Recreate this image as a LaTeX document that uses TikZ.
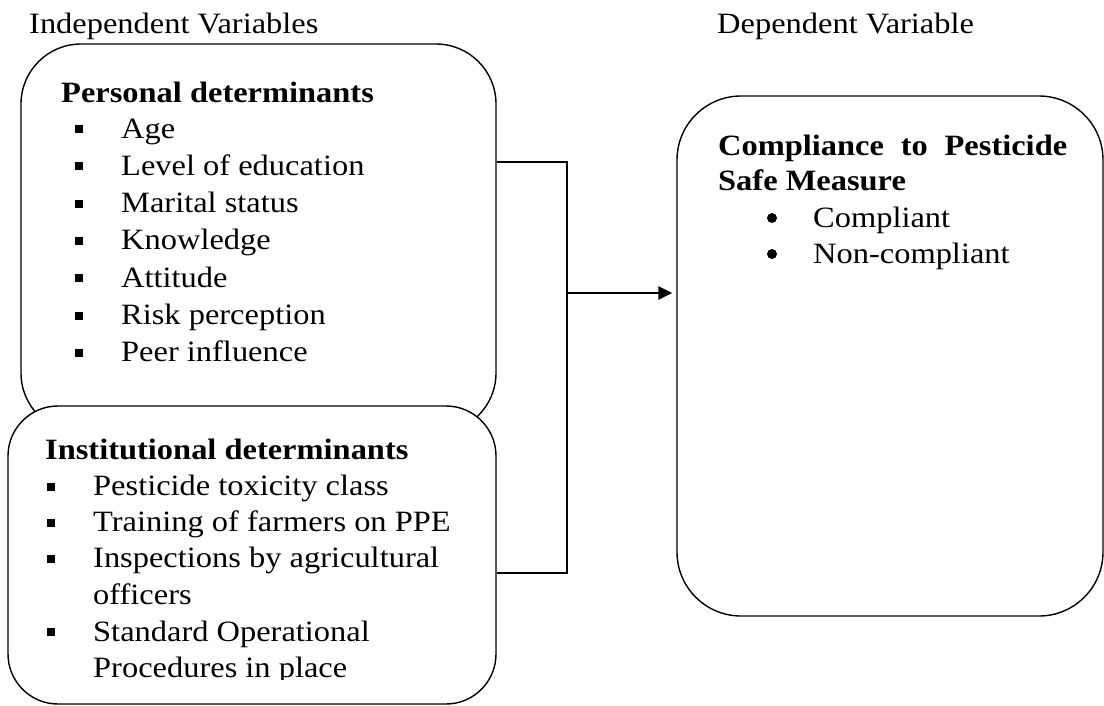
\documentclass[tikz,border=0pt]{standalone}
\usepackage{fontspec}
\setmainfont{Liberation Serif}[FakeStretch=1.1]
\usetikzlibrary{arrows.meta}
\newcommand{\sqb}{\makebox[46pt][l]{\rule[5pt]{8pt}{8pt}}}

\begin{document}
\begin{tikzpicture}[x=1pt,y=-1pt,
    font=\fontsize{29.5}{37}\selectfont,
    box/.style={draw, line width=1.4pt, rounded corners=#1, inner sep=0pt},
    txt/.style={anchor=base west, inner sep=0pt},
    conn/.style={line width=2.6pt}]
    \useasboundingbox (0,0) rectangle (1104,705);
    \node[txt] (indep) at (29,33) {Independent Variables};
    \node[txt] (depen) at (717,33) {Dependent Variable};
    % boxes
    \node[box=60pt, minimum width=475pt, minimum height=389pt] (pers) at (258.5,238.5) {};
    \node[box=50pt, fill=white, minimum width=488pt, minimum height=298pt] (inst) at (252,555) {};
    \node[box=64pt, minimum width=426pt, minimum height=520pt] (dep) at (890,356) {};
    % personal determinants
    \node[txt] (ptitle) at (61,102) {\bfseries Personal determinants};
    \foreach \t [count=\i from 0] in {Age, Level of education, Marital status,
        Knowledge, Attitude, Risk perception, Peer influence}
        \node[txt] (p\i) at (75,{138+37.3*\i}) {\sqb\t};
    % institutional determinants
    \node[txt] (ititle) at (45,459) {\bfseries Institutional determinants};
    \foreach \t [count=\i from 0] in {Pesticide toxicity class,
        Training of farmers on PPE, Inspections by agricultural}
        \node[txt] (i\i) at (47,{495.5+36.2*\i}) {\sqb\t};
    \node[txt] (i3) at (93,604) {officers};
    \node[txt] (i4) at (47,641) {\sqb Standard Operational};
    \begin{scope}
        \clip (0,0) rectangle (1104,679);
        \node[txt] (i5) at (93,677) {Procedures in place};
    \end{scope}
    % dependent variable
    \node[txt] (dtitle) at (718,155) {\bfseries\makebox[349pt]{Compliance\hfill to\hfill Pesticide}};
    \node[txt] (dtitle2) at (718,190) {\bfseries Safe Measure};
    \node[txt] (d1) at (813,227) {Compliant};
    \node[txt] (d2) at (813,263) {Non-compliant};
    \foreach \d in {d1,d2}
        \fill ([xshift=-41pt,yshift=9pt]\d.base west) circle (5pt);
    % connectors
    \coordinate (jn) at (567,293);
    \draw[conn] (pers.east |- 0,162) -| (jn |- 0,573) -- (inst.east |- 0,573);
    \draw[conn,-{Triangle[length=14pt,width=13pt]},shorten >=4pt] (jn) -- (dep.west |- jn);
\end{tikzpicture}
\end{document}
